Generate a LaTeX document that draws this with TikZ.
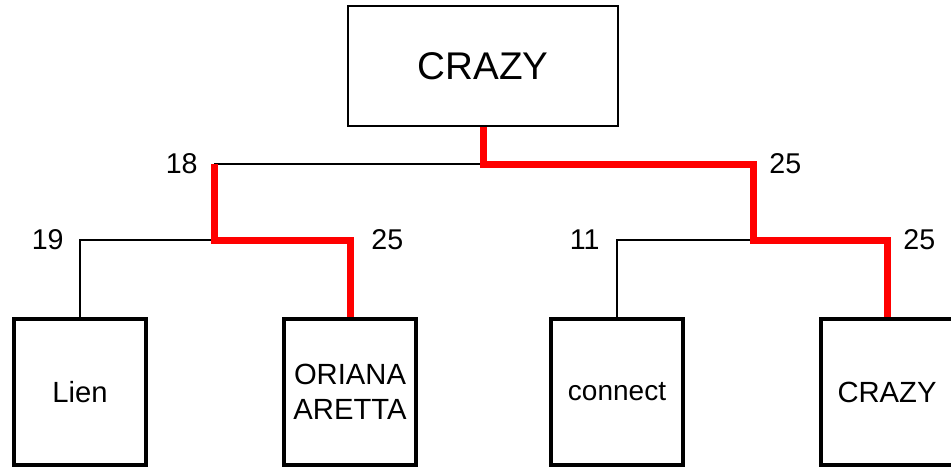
\documentclass[tikz,border=0pt]{standalone}
\usepackage{fontspec}
\setmainfont{Liberation Sans}
\usetikzlibrary{positioning}

\begin{document}
\begin{tikzpicture}[x=0.5pt, y=-0.5pt,
    rootbox/.style={draw, line width=1pt, minimum width=135pt, minimum height=60pt, inner sep=0pt, font=\fontsize{19.3}{21}\selectfont},
    leafbox/.style={draw, line width=2pt, minimum width=66pt, minimum height=73pt, inner sep=0pt, align=center, font=\fontsize{14.6}{17.5}\selectfont},
    num/.style={inner sep=0pt, font=\fontsize{14.3}{16}\selectfont},
    thin/.style={line width=1pt},
    win/.style={line width=3.5pt, red}]
    \useasboundingbox (0,0) rectangle (951,468);

    \node (root) [rootbox] at (483,66) {CRAZY};
    \node (lien) [leafbox] at (80,392) {Lien};
    \node (oriana) [leafbox] at (350,392) {ORIANA\\ARETTA};
    \node (connect) [leafbox] at (617,392) {\fontsize{14}{16}\selectfont connect};
    \node (crazy) [leafbox] at (887,392) {CRAZY};

    \coordinate (top) at (483,164);
    \coordinate (semiL) at (214,164);
    \coordinate (semiR) at (753,164);
    \coordinate (finL) at (214,240);
    \coordinate (finR) at (753,240);

    % losers
    \draw[thin] (semiL) -- (top);
    \draw[thin] (finL) -| (lien.north);
    \draw[thin] (finR) -| (connect.north);

    % winners
    \draw[win] (root.south) |- (semiR) -- (finR) -| (crazy.north);
    \draw[win] (semiL) -- (finL) -| (oriana.north);

    \node (n18) [num, left=8pt of semiL] {18};
    \node (n25r) [num, right=8pt of semiR] {25};
    \node (n19) [num, left=8pt of lien.north |- finL] {19};
    \node (n25l) [num, right=10.5pt of oriana.north |- finL] {25};
    \node (n11) [num, left=8.5pt of connect.north |- finR] {11};
    \node (n25c) [num, right=8pt of crazy.north |- finR] {25};
\end{tikzpicture}
\end{document}
